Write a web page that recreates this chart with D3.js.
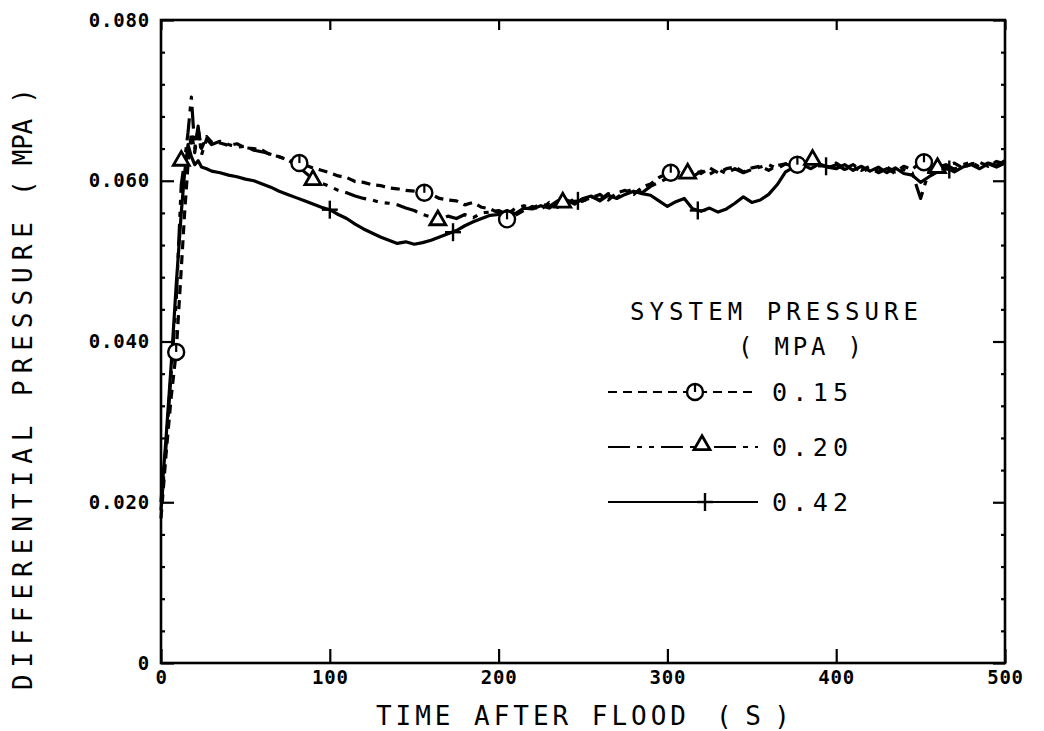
<!DOCTYPE html>
<html>
<head>
<meta charset="utf-8">
<script src="https://cdn.jsdelivr.net/npm/d3@7"></script>
<style>
  body { margin: 0; background: #fff; }
</style>
</head>
<body>
<div id="container"></div>
<script>
let w = 1044;
let h = 731;

// time after flood (s)
let times = [0, 3, 6, 9, 12, 14, 16, 18, 20, 22, 24, 27, 30, 35, 40, 45, 50, 55, 60, 65, 70, 75, 80, 85, 90, 95,
  100, 105, 110, 115, 120, 125, 130, 135, 140, 145, 150, 155, 160, 165, 170, 175, 180, 185, 190, 195,
  200, 205, 210, 215, 220, 225, 230, 235, 240, 245, 250, 255, 260, 265, 270, 275, 280, 285, 290, 295,
  300, 305, 310, 315, 320, 325, 330, 335, 340, 345, 350, 355, 360, 365, 370, 375, 380, 385, 390, 395,
  400, 405, 410, 415, 420, 425, 430, 435, 440, 445, 450, 455, 460, 465, 470, 475, 480, 485, 490, 495, 500];

// differential pressure (MPa) for system pressure 0.15 MPa
let p015 = [0.0180, 0.0260, 0.0330, 0.0387, 0.0490, 0.0560, 0.0620, 0.0660, 0.0635, 0.0665, 0.0640, 0.0655, 0.0648,
  0.0647, 0.0644, 0.0646, 0.0641, 0.0640, 0.0638, 0.0632, 0.0630, 0.0626, 0.0623, 0.0620, 0.0616, 0.0613,
  0.0610, 0.0606, 0.0604, 0.0599, 0.0598, 0.0595, 0.0594, 0.0591, 0.0590, 0.0588, 0.0587, 0.0585, 0.0583, 0.0578,
  0.0576, 0.0575, 0.0570, 0.0573, 0.0567, 0.0565,
  0.0560, 0.0550, 0.0557, 0.0563, 0.0568, 0.0564, 0.0573, 0.0567, 0.0576, 0.0572, 0.0575, 0.0579, 0.0583, 0.0576,
  0.0585, 0.0588, 0.0583, 0.0592, 0.0596, 0.0604,
  0.0609, 0.0613, 0.0606, 0.0614, 0.0609, 0.0616, 0.0610, 0.0615, 0.0617, 0.0611, 0.0616, 0.0618, 0.0613, 0.0619,
  0.0621, 0.0622, 0.0618, 0.0623, 0.0620, 0.0617,
  0.0622, 0.0615, 0.0620, 0.0613, 0.0618, 0.0612, 0.0617, 0.0611, 0.0618, 0.0614, 0.0623, 0.0619, 0.0613, 0.0619,
  0.0622, 0.0616, 0.0621, 0.0623, 0.0618, 0.0624, 0.0621];

// system pressure 0.20 MPa
let p020 = [0.0190, 0.0270, 0.0360, 0.0450, 0.0595, 0.0625, 0.0660, 0.0704, 0.0640, 0.0668, 0.0632, 0.0652, 0.0645,
  0.0649, 0.0645, 0.0642, 0.0643, 0.0638, 0.0636, 0.0633, 0.0630, 0.0626, 0.0620, 0.0611, 0.0602, 0.0597,
  0.0593, 0.0588, 0.0585, 0.0581, 0.0578, 0.0576, 0.0573, 0.0572, 0.0570, 0.0566, 0.0563, 0.0558, 0.0555, 0.0551,
  0.0556, 0.0553, 0.0558, 0.0554, 0.0560, 0.0561,
  0.0563, 0.0558, 0.0566, 0.0569, 0.0566, 0.0571, 0.0568, 0.0575, 0.0570, 0.0578, 0.0575, 0.0580, 0.0576, 0.0584,
  0.0579, 0.0586, 0.0590, 0.0585, 0.0593, 0.0598,
  0.0603, 0.0607, 0.0611, 0.0605, 0.0612, 0.0608, 0.0614, 0.0609, 0.0615, 0.0610, 0.0614, 0.0617, 0.0620, 0.0615,
  0.0621, 0.0617, 0.0623, 0.0626, 0.0620, 0.0616,
  0.0620, 0.0614, 0.0618, 0.0611, 0.0616, 0.0610, 0.0615, 0.0609, 0.0614, 0.0610, 0.0578, 0.0612, 0.0617, 0.0620,
  0.0614, 0.0620, 0.0623, 0.0617, 0.0622, 0.0619, 0.0625];

// system pressure 0.42 MPa
let p042 = [0.0200, 0.0280, 0.0370, 0.0470, 0.0560, 0.0610, 0.0645, 0.0630, 0.0620, 0.0625, 0.0617, 0.0615, 0.0612,
  0.0610, 0.0607, 0.0605, 0.0602, 0.0600, 0.0596, 0.0592, 0.0587, 0.0583, 0.0579, 0.0575, 0.0571, 0.0567,
  0.0564, 0.0558, 0.0553, 0.0546, 0.0540, 0.0535, 0.0530, 0.0526, 0.0522, 0.0524, 0.0521, 0.0523, 0.0526, 0.0530,
  0.0534, 0.0538, 0.0544, 0.0549, 0.0553, 0.0557,
  0.0558, 0.0563, 0.0559, 0.0566, 0.0565, 0.0569, 0.0566, 0.0573, 0.0576, 0.0571, 0.0578, 0.0581, 0.0575, 0.0582,
  0.0578, 0.0583, 0.0587, 0.0584, 0.0582, 0.0575,
  0.0568, 0.0574, 0.0578, 0.0565, 0.0562, 0.0566, 0.0561, 0.0565, 0.0572, 0.0580, 0.0573, 0.0576, 0.0583, 0.0595,
  0.0611, 0.0617, 0.0620, 0.0615, 0.0621, 0.0617,
  0.0615, 0.0620, 0.0613, 0.0618, 0.0612, 0.0617, 0.0610, 0.0616, 0.0609, 0.0607, 0.0598, 0.0605, 0.0611, 0.0616,
  0.0611, 0.0617, 0.0620, 0.0615, 0.0621, 0.0617, 0.0622];

// symbols along each curve [time, value]
let mark015 = [[9, 0.0387], [82, 0.0622], [156, 0.0585], [205, 0.0552], [302, 0.0610], [377, 0.0620], [452, 0.0623]];
let mark020 = [[12, 0.0625], [90, 0.0601], [164, 0.0551], [238, 0.0573], [312, 0.0609], [386, 0.0626], [460, 0.0616]];
let mark042 = [[100, 0.0564], [173, 0.0536], [247, 0.0575], [318, 0.0563], [394, 0.0618], [467, 0.0614]];

let xTicks = [0, 100, 200, 300, 400, 500];
let yTicks = [0, 0.02, 0.04, 0.06, 0.08];
let yTickLabels = ["0", "0.020", "0.040", "0.060", "0.080"];
let legendLabels = ["0.15", "0.20", "0.42"];

let viz = d3.select("#container")
  .append("svg")
    .attr("width", w)
    .attr("height", h)
    .style("background", "#fff")
;

let xScale = d3.scaleLinear().domain([0, 500]).range([161, 1005]);
let yScale = d3.scaleLinear().domain([0, 0.08]).range([663, 20]);

let tickFont = "'DejaVu Sans Mono', monospace";

// x axis (bottom, ticks inward)
let xAxisGroup = viz.append("g").attr("class", "xaxis")
  .attr("transform", "translate(0, 663)")
  .call(d3.axisBottom(xScale).tickValues(xTicks).tickSize(-14).tickPadding(8).tickFormat(d3.format("d")));
// top ticks
viz.append("g").attr("transform", "translate(0, 20)")
  .call(d3.axisTop(xScale).tickValues(xTicks).tickSize(-10).tickFormat(""));

// y axis (left, ticks inward)
let yAxisGroup = viz.append("g").attr("class", "yaxis")
  .attr("transform", "translate(161, 0)")
  .call(d3.axisLeft(yScale).tickValues(yTicks).tickSize(-13).tickPadding(11)
    .tickFormat(function(d, i){ return yTickLabels[i]; }));
// right ticks
viz.append("g").attr("transform", "translate(1005, 0)")
  .call(d3.axisRight(yScale).tickValues(yTicks).tickSize(-12).tickFormat(""));

// minor ticks on the y sides
let minorY = d3.range(0.004, 0.08, 0.004).filter(function(d){ return Math.abs(d / 0.02 - Math.round(d / 0.02)) > 0.01; });
viz.append("g").attr("transform", "translate(161, 0)")
  .call(d3.axisLeft(yScale).tickValues(minorY).tickSize(-4).tickFormat(""));
viz.append("g").attr("transform", "translate(1005, 0)")
  .call(d3.axisRight(yScale).tickValues(minorY).tickSize(-4).tickFormat(""));

viz.selectAll(".domain").remove();
viz.selectAll(".tick line").attr("stroke", "#000").attr("stroke-width", 2.2);
viz.selectAll(".tick text")
  .attr("fill", "#000")
  .attr("font-family", tickFont)
  .attr("font-weight", "bold")
  .attr("font-size", "19px")
  .attr("letter-spacing", "0.8px");

// frame
viz.append("rect")
  .attr("x", 161).attr("y", 20)
  .attr("width", 1005 - 161).attr("height", 663 - 20)
  .attr("fill", "none").attr("stroke", "#000").attr("stroke-width", 2.6);

// axis titles
let titleFont = "'DejaVu Sans Mono', monospace";
viz.append("text")
  .text("TIME AFTER FLOOD")
  .attr("x", 376).attr("y", 725)
  .attr("textLength", 310).attr("lengthAdjust", "spacing")
  .attr("font-family", titleFont).attr("font-size", "26px")
  .attr("fill", "#000");
viz.append("text")
  .text("( S )")
  .attr("x", 716).attr("y", 725)
  .attr("textLength", 74).attr("lengthAdjust", "spacing")
  .attr("font-family", titleFont).attr("font-size", "26px")
  .attr("fill", "#000");

viz.append("text")
  .text("DIFFERENTIAL PRESSURE")
  .attr("transform", "translate(32, 690) rotate(-90)")
  .attr("textLength", 468).attr("lengthAdjust", "spacing")
  .attr("font-family", titleFont).attr("font-size", "26px")
  .attr("fill", "#000");
viz.append("text")
  .text("( MPA )")
  .attr("transform", "translate(32, 196) rotate(-90)")
  .attr("textLength", 108).attr("lengthAdjust", "spacing")
  .attr("font-family", titleFont).attr("font-size", "26px")
  .attr("fill", "#000");

// curves
let series = [
  {name: "0.15", values: p015, marks: mark015, dash: "9,6", sym: "circle"},
  {name: "0.20", values: p020, marks: mark020, dash: "22,7,5,7,5,7", sym: "triangle"},
  {name: "0.42", values: p042, marks: mark042, dash: null, sym: "plus"}
];

let lineGen = d3.line()
  .x(function(d){ return xScale(d[0]); })
  .y(function(d){ return yScale(d[1]); });

let vizGroup = viz.append("g").attr("class", "vizGroup");

series.forEach(function(s){
  let pts = times.map(function(t, i){ return [t, s.values[i]]; });
  vizGroup.append("path")
    .attr("d", lineGen(pts))
    .attr("fill", "none")
    .attr("stroke", "#000")
    .attr("stroke-width", 3.2)
    .attr("stroke-linejoin", "round")
    .attr("stroke-dasharray", s.dash);
});

function drawSymbol(g, sym, x, y) {
  if (sym == "circle") {
    g.append("circle").attr("cx", x).attr("cy", y).attr("r", 8)
      .attr("fill", "#fff").attr("stroke", "#000").attr("stroke-width", 2.4);
    g.append("line").attr("x1", x).attr("x2", x).attr("y1", y - 8).attr("y2", y)
      .attr("stroke", "#000").attr("stroke-width", 2.2);
  } else if (sym == "triangle") {
    g.append("path")
      .attr("d", d3.symbol().type(d3.symbolTriangle).size(110)())
      .attr("transform", "translate(" + x + "," + y + ")")
      .attr("fill", "#fff").attr("stroke", "#000").attr("stroke-width", 2.8);
  } else {
    g.append("line").attr("x1", x - 8).attr("x2", x + 8).attr("y1", y).attr("y2", y)
      .attr("stroke", "#000").attr("stroke-width", 2.4);
    g.append("line").attr("x1", x).attr("x2", x).attr("y1", y - 9).attr("y2", y + 9)
      .attr("stroke", "#000").attr("stroke-width", 2.4);
  }
}

series.forEach(function(s){
  s.marks.forEach(function(m){
    drawSymbol(vizGroup, s.sym, xScale(m[0]), yScale(m[1]));
  });
});

// legend
let legend = viz.append("g").attr("class", "legend");
legend.append("text")
  .text("SYSTEM PRESSURE")
  .attr("x", 630).attr("y", 320)
  .attr("textLength", 288).attr("lengthAdjust", "spacing")
  .attr("font-family", titleFont).attr("font-size", "24px").attr("fill", "#000");
legend.append("text")
  .text("( MPA )")
  .attr("x", 738).attr("y", 355)
  .attr("textLength", 124).attr("lengthAdjust", "spacing")
  .attr("font-family", titleFont).attr("font-size", "24px").attr("fill", "#000");

let legendY = [392, 447, 502];
series.forEach(function(s, i){
  let ly = legendY[i];
  legend.append("line")
    .attr("x1", 608).attr("x2", 758).attr("y1", ly).attr("y2", ly)
    .attr("stroke", "#000").attr("stroke-width", 1.8)
    .attr("stroke-dasharray", s.dash);
  drawSymbol(legend, s.sym, [695, 702, 705][i], s.sym == "triangle" ? ly - 2 : ly);
  legend.append("text")
    .text(legendLabels[i])
    .attr("x", 772).attr("y", ly + 9)
    .attr("textLength", 76).attr("lengthAdjust", "spacing")
    .attr("font-family", titleFont).attr("font-size", "25px").attr("fill", "#000");
});
</script>
</body>
</html>
